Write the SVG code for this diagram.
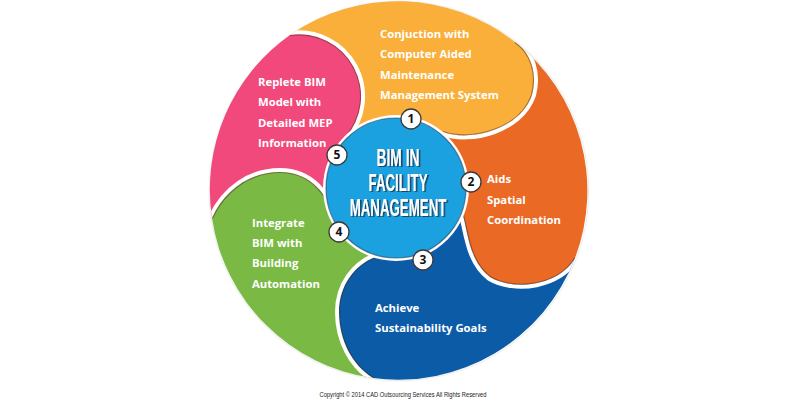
<svg xmlns="http://www.w3.org/2000/svg" xmlns:xlink="http://www.w3.org/1999/xlink" width="800" height="400" viewBox="0 0 800 400">
<style>
.lbl{font-family:"Open Sans","Noto Sans","DejaVu Sans",sans-serif;font-weight:700;font-size:11.3px;fill:#ffffff}
.num{font-family:"Open Sans","DejaVu Sans",sans-serif;font-weight:700;font-size:12px;fill:#111111;text-anchor:middle}
.badge{fill:#ffffff;stroke:#3a3a3a;stroke-width:1.3}
.ttl{font-family:"Liberation Sans",Arial,sans-serif;font-weight:700;font-size:24px;fill:#ffffff;text-anchor:middle}
.wb{fill:none;stroke:#ffffff;stroke-width:8}
.dk{fill:none;stroke:#3b2a1a;stroke-opacity:0.45;stroke-width:2.2}
</style>
<defs>
<path id="rY" d="M345,138 A62,62 0 0 0 290,35 A189,189 0 0 1 515,42 C530,52 538,72 532,95 C520,130 470,142 443,132 L395,187 Z"/>
<path id="rO" d="M443,132 C470,142 520,130 532,95 C538,72 530,52 515,42 A189,189 0 0 1 575,258 C560,285 515,292 490,277 C468,260 468,230 462,212 L395,187 Z"/>
<path id="rB" d="M462,212 C468,230 468,260 490,277 C515,292 560,285 575,258 A189,189 0 0 1 373,378 C352,365 339,340 339,312 C339,285 355,265 375,257 L395,187 Z"/>
<path id="rG" d="M375,257 C355,265 339,285 339,312 C339,340 352,365 373,378 A189,189 0 0 1 212,218 C225,190 250,172 280,172 C310,172 330,195 333,220 L395,187 Z"/>
<path id="rP" d="M333,220 C330,195 310,172 280,172 C250,172 225,190 212,218 A189,189 0 0 1 290,35 A62,62 0 0 1 345,138 L395,187 Z"/>
<path id="cA" d="M345,138 A62,62 0 0 0 290,35"/>
<path id="cB" d="M443,132 C470,142 520,130 532,95 C538,72 530,52 515,42"/>
<path id="cC" d="M462,212 C468,230 468,260 490,277 C515,292 560,285 575,258"/>
<path id="cD" d="M375,257 C355,265 339,285 339,312 C339,340 352,365 373,378"/>
<path id="cE" d="M212,218 C225,190 250,172 280,172 C310,172 330,195 333,220"/>
<clipPath id="kY"><use xlink:href="#rY"/></clipPath>
<clipPath id="kO"><use xlink:href="#rO"/></clipPath>
<clipPath id="kB"><use xlink:href="#rB"/></clipPath>
<clipPath id="kG"><use xlink:href="#rG"/></clipPath>
<clipPath id="kP"><use xlink:href="#rP"/></clipPath>
<filter id="tsh" x="-10%" y="-20%" width="120%" height="140%"><feDropShadow dx="1.6" dy="1" stdDeviation="0.6" flood-color="#16324d" flood-opacity="0.85"/></filter>
<filter id="osh" x="-10%" y="-10%" width="120%" height="120%"><feDropShadow dx="0" dy="0" stdDeviation="1.2" flood-color="#000" flood-opacity="0.25"/></filter>
</defs>
<rect width="800" height="400" fill="#ffffff"/>
<circle cx="399" cy="191" r="189" fill="#ffffff" filter="url(#osh)"/>

<g id="node-1">
<use xlink:href="#rY" fill="#F9AF3A"/>
<text class="lbl" x="380" y="37.5">Conjuction with</text>
<text class="lbl" x="380" y="58">Computer Aided</text>
<text class="lbl" x="380" y="79">Maintenance</text>
<text class="lbl" x="380" y="99">Management System</text>
</g>
<g id="node-2">
<use xlink:href="#rO" fill="#EA6A25"/>
<text class="lbl" x="487" y="183">Aids</text>
<text class="lbl" x="487" y="204">Spatial</text>
<text class="lbl" x="487" y="224">Coordination</text>
</g>
<g id="node-3">
<use xlink:href="#rB" fill="#0C5BA7"/>
<text class="lbl" x="375" y="312">Achieve</text>
<text class="lbl" x="375" y="332">Sustainability Goals</text>
</g>
<g id="node-4">
<use xlink:href="#rG" fill="#7AB944"/>
<text class="lbl" x="252" y="227">Integrate</text>
<text class="lbl" x="252" y="247">BIM with</text>
<text class="lbl" x="252" y="267">Building</text>
<text class="lbl" x="252" y="288">Automation</text>
</g>
<g id="node-5">
<use xlink:href="#rP" fill="#F1497B"/>
<text class="lbl" x="258" y="86">Replete BIM</text>
<text class="lbl" x="258" y="106">Model with</text>
<text class="lbl" x="258" y="127">Detailed MEP</text>
<text class="lbl" x="258" y="147">Information</text>
</g>

<g id="connectors">
<use xlink:href="#cA" class="wb" clip-path="url(#kY)"/>
<use xlink:href="#cA" class="dk" clip-path="url(#kP)"/>
<use xlink:href="#cB" class="wb" clip-path="url(#kO)"/>
<use xlink:href="#cB" class="dk" clip-path="url(#kY)"/>
<use xlink:href="#cC" class="wb" clip-path="url(#kB)"/>
<use xlink:href="#cC" class="dk" clip-path="url(#kO)"/>
<use xlink:href="#cD" class="wb" clip-path="url(#kG)"/>
<use xlink:href="#cD" class="dk" clip-path="url(#kB)"/>
<use xlink:href="#cE" class="wb" clip-path="url(#kP)"/>
<use xlink:href="#cE" class="dk" clip-path="url(#kG)"/>
</g>

<g id="center">
<circle cx="396" cy="188" r="73" fill="#ffffff"/>
<circle cx="396" cy="188" r="70" fill="#1BA1E0" stroke="#16324d" stroke-opacity="0.55" stroke-width="1.2"/>
<g filter="url(#tsh)">
<g transform="translate(398,0) scale(0.556,1)">
<text class="ttl" x="0" y="166" textLength="77" lengthAdjust="spacingAndGlyphs">BIM IN</text>
<text class="ttl" x="0" y="191" textLength="106" lengthAdjust="spacingAndGlyphs">FACILITY</text>
<text class="ttl" x="0" y="216" textLength="174" lengthAdjust="spacingAndGlyphs">MANAGEMENT</text>
</g>
</g>
</g>

<g id="badges">
<circle class="badge" cx="411" cy="119" r="10"/><text class="num" x="411" y="123.3">1</text>
<circle class="badge" cx="471" cy="182" r="10"/><text class="num" x="471" y="186.3">2</text>
<circle class="badge" cx="423" cy="260" r="10"/><text class="num" x="423" y="264.3">3</text>
<circle class="badge" cx="339" cy="232" r="10"/><text class="num" x="339" y="236.3">4</text>
<circle class="badge" cx="337" cy="155" r="10"/><text class="num" x="337" y="159.3">5</text>
</g>

<text x="403" y="397" font-family="Liberation Sans, Arial, sans-serif" font-size="6.8" fill="#222222" text-anchor="middle" textLength="167" lengthAdjust="spacingAndGlyphs">Copyright © 2014 CAD Outsourcing Services All Rights Reserved</text>
</svg>
